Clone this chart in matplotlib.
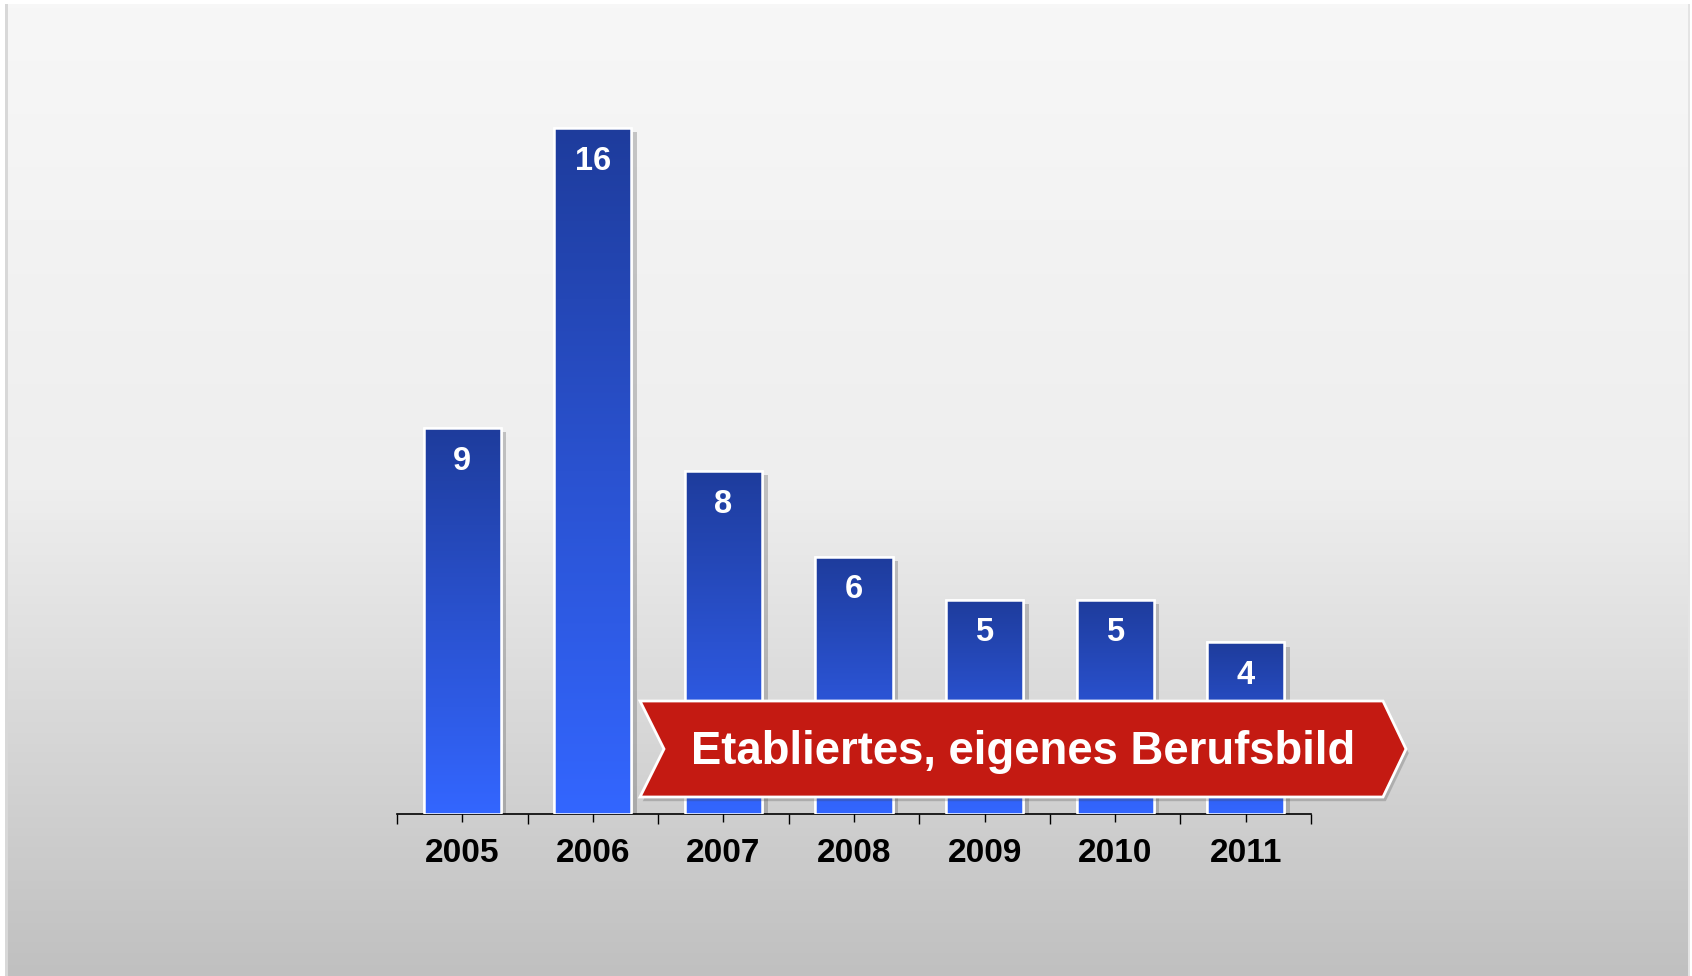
import numpy as np
import matplotlib
matplotlib.use("Agg")
import matplotlib.pyplot as plt
from matplotlib.patches import Polygon, Rectangle
import matplotlib.patheffects as pe
from matplotlib.colors import LinearSegmentedColormap

years = ["2005", "2006", "2007", "2008", "2009", "2010", "2011"]
values = [9, 16, 8, 6, 5, 5, 4]
banner_text = "Etabliertes, eigenes Berufsbild"

W, H = 1692, 976
fig = plt.figure(figsize=(W / 100, H / 100), dpi=100)
fig.patch.set_facecolor("white")
plt.rcParams['font.family'] = ['Liberation Sans', 'DejaVu Sans']

def fx(x):
    return x / W

def fy(y):
    return 1 - y / H

# background panel with vertical gradient
bg = fig.add_axes([fx(8), 0, fx(1688) - fx(8), fy(4)], zorder=-5)
grad = np.linspace(0, 1, 256).reshape(-1, 1)
bg_cmap = LinearSegmentedColormap.from_list("bg", ["#f7f7f7", "#eeeeee", "#c0c0c0"])
bg.imshow(grad, aspect="auto", cmap=bg_cmap, extent=(0, 1, 0, 1), origin="upper")
bg.set_axis_off()
fig.add_artist(Rectangle((fx(5), 0), fx(3), fy(4), transform=fig.transFigure,
                         facecolor="#d8d8d8", edgecolor="none", zorder=-6))
fig.add_artist(Rectangle((fx(1688), 0), fx(2), fy(4), transform=fig.transFigure,
                         facecolor="#e4e4e4", edgecolor="none", zorder=-4))

# main axes
ax = fig.add_axes([fx(397), fy(814), fx(1311) - fx(397), fy(42) - fy(814)])
ax.patch.set_alpha(0)
n = len(years)
x = np.arange(n)

bar_w = 0.59
bar_cmap = LinearSegmentedColormap.from_list("bar", ["#1e3c9c", "#2a52d0", "#3366ff"])
bars = ax.bar(x, values, width=bar_w, facecolor="#2a52d0", edgecolor="white",
              linewidth=1.8, zorder=2)
for b in bars:
    b.set_path_effects([pe.SimplePatchShadow(offset=(4, -3), shadow_rgbFace="#555555", alpha=0.3),
                        pe.Normal()])
    x0, y0 = b.get_x(), b.get_y()
    w, h = b.get_width(), b.get_height()
    im = ax.imshow(grad, aspect="auto", cmap=bar_cmap, extent=(x0, x0 + w, 0, h),
                   origin="upper", zorder=3)
    im.set_clip_path(b)
    ax.add_patch(Rectangle((x0, y0), w, h, facecolor="none", edgecolor="white",
                           linewidth=1.8, zorder=4))
    ax.annotate(f"{h:g}", (x0 + w / 2, h), xytext=(0, -24), textcoords="offset points",
                ha="center", va="center", color="white", fontsize=23.5, fontweight="bold",
                zorder=5)

ax.set_xlim(-0.5, n - 0.5)
ax.set_ylim(0, 18)
for s in ["top", "right", "left"]:
    ax.spines[s].set_visible(False)
ax.spines["bottom"].set_linewidth(1.2)
ax.set_yticks([])
ax.set_xticks(x)
ax.set_xticklabels(years, fontsize=24, fontweight="bold")
ax.set_xticks(np.arange(-0.5, n, 1), minor=True)
ax.tick_params(axis="x", which="major", direction="inout", length=11, width=1, pad=11.5)
ax.tick_params(axis="x", which="minor", direction="out", length=7, width=1)

# banner
bx0, bx1, btip = 640, 1383, 1406
by0, by1 = 701, 797
bmid = (by0 + by1) / 2
notch = 664
pts = [(bx0, by0), (bx1, by0), (btip, bmid), (bx1, by1), (bx0, by1), (notch, bmid)]
poly = Polygon([(fx(px), fy(py)) for px, py in pts], closed=True,
               transform=fig.transFigure, facecolor="#c41a12", edgecolor="white",
               linewidth=2, zorder=10)
poly.set_path_effects([pe.SimplePatchShadow(offset=(2, -3), shadow_rgbFace="#444444", alpha=0.25),
                       pe.Normal()])
fig.add_artist(poly)
fig.text(fx(1023), fy(752), banner_text, ha="center", va="center", color="white",
         fontsize=32.8, fontweight="bold", zorder=11)

fig.savefig("out.png", dpi=100)
